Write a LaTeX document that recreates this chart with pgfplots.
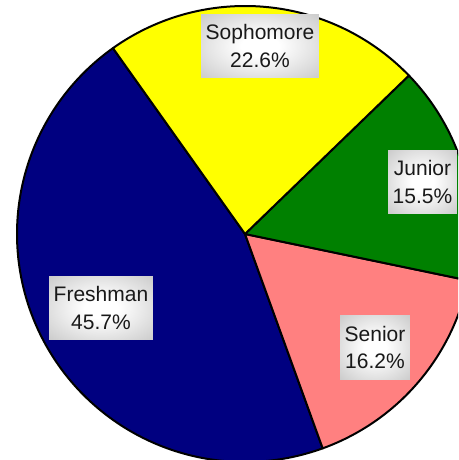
\documentclass[border=0pt]{standalone}
\usepackage{pgfplots}
\pgfplotsset{compat=1.18}
\usepackage{fontspec}
\setmainfont{Liberation Sans}
\definecolor{fresh}{RGB}{0,0,128}
\definecolor{soph}{RGB}{255,255,0}
\definecolor{jun}{RGB}{0,128,0}
\definecolor{sen}{RGB}{255,128,128}
\definecolor{lgray}{RGB}{176,176,176}
\pgfdeclareradialshading{labelshade}{\pgfpoint{0bp}{0bp}}{color(0bp)=(white); color(8bp)=(white); color(50bp)=(lgray); color(100bp)=(lgray)}
% shares in percent
\def\vFresh{45.7}
\def\vSen{16.2}
\def\vJun{15.5}
\def\vSoph{22.6}
\def\R{228}
\pgfmathsetmacro\aA{125.4}
\pgfmathsetmacro\aB{\aA+3.6*\vFresh}
\pgfmathsetmacro\aC{\aB+3.6*\vSen}
\pgfmathsetmacro\aD{\aC+3.6*\vJun}
\pgfmathsetmacro\aE{\aD+3.6*\vSoph}
\begin{document}
\begin{tikzpicture}[
  lbl/.style={shade, shading=labelshade, inner xsep=4.5pt, inner ysep=10.5pt,
    align=center, font=\fontsize{21}{27.5}\selectfont, text=black!90},
]
\begin{axis}[
  scale only axis, width=458pt, height=460pt,
  xmin=-245, xmax=213, ymin=-226, ymax=234,
  hide axis, clip=true,
]
\addplot[fill=fresh, draw=black, line width=2pt, line join=round, domain=\aA:\aB, samples=150, variable=\t] ({\R*cos(\t)},{\R*sin(\t)}) -- (0,0) -- cycle;
\addplot[fill=sen, draw=black, line width=2pt, line join=round, domain=\aB:\aC, samples=60, variable=\t] ({\R*cos(\t)},{\R*sin(\t)}) -- (0,0) -- cycle;
\addplot[fill=jun, draw=black, line width=2pt, line join=round, domain=\aC:\aD, samples=60, variable=\t] ({\R*cos(\t)},{\R*sin(\t)}) -- (0,0) -- cycle;
\addplot[fill=soph, draw=black, line width=2pt, line join=round, domain=\aD:\aE, samples=80, variable=\t] ({\R*cos(\t)},{\R*sin(\t)}) -- (0,0) -- cycle;
\node[lbl] at (-144,-74) {Freshman\\45.7\%};
\node[lbl] at (130,-113.5) {Senior\\16.2\%};
\node[lbl] at (177.5,52) {Junior\\15.5\%};
\node[lbl] at (15,188) {Sophomore\\22.6\%};
\coordinate (SW) at (rel axis cs:0,0);
\coordinate (NE) at (rel axis cs:1,1);
\end{axis}
\pgfresetboundingbox
\useasboundingbox (SW) rectangle (NE);
\end{tikzpicture}
\end{document}
